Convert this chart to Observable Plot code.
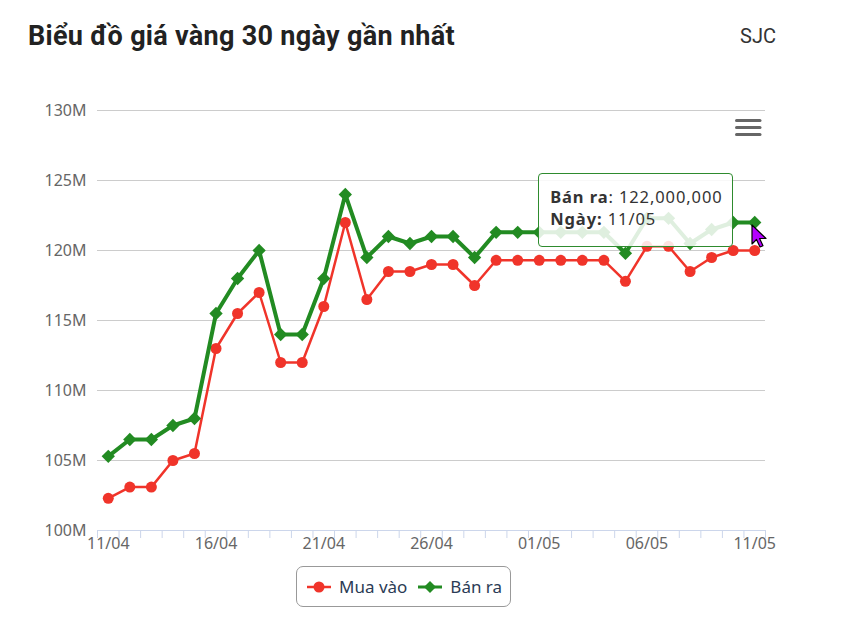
<!DOCTYPE html>
<html>
<head>
<meta charset="utf-8">
<script src="https://cdn.jsdelivr.net/npm/d3@7"></script>
<script src="https://cdn.jsdelivr.net/npm/@observablehq/plot@0.6"></script>
<style>
  html, body { margin: 0; padding: 0; background: #fff; }
  #wrap { position: relative; width: 842px; height: 637px; overflow: hidden; font-family: "Noto Sans", sans-serif; }
  #title { position: absolute; left: 28px; top: 20px; font-family: Roboto, sans-serif; font-weight: 700; font-size: 27px; color: #222; white-space: nowrap; letter-spacing: 0.3px; }
  #brand { position: absolute; left: 740px; top: 24px; font-family: Roboto, sans-serif; font-size: 20px; color: #333; }
  #chart { position: absolute; left: 0; top: 0; }
  #tip { position: absolute; box-sizing: border-box; width: 195px; height: 74px; border: 1px solid #2e8b2e; border-radius: 4px; background: rgba(255,255,255,0.86); padding: 12px 0 0 11px; font-size: 16.5px; line-height: 22px; color: #333; letter-spacing: 0.9px; white-space: nowrap; }
  #legend { position: absolute; left: 296px; top: 566px; width: 215px; height: 41px; box-sizing: border-box; border: 1.5px solid #999; border-radius: 7px; display: flex; align-items: center; padding-left: 9px; font-size: 17px; color: #2b3b55; white-space: nowrap; }
  #legend .item { display: flex; align-items: center; margin-right: 10px; flex: none; }
  #legend svg { margin-right: 7px; flex: none; }
  #menu { position: absolute; left: 735px; top: 118px; }
  #cursor { position: absolute; }
</style>
</head>
<body>
<div id="wrap">
  <div id="chart"></div>
  <div id="title">Biểu đồ giá vàng 30 ngày gần nhất</div>
  <div id="brand">SJC</div>
  <svg id="menu" width="28" height="20"><g stroke="#666" stroke-width="3" stroke-linecap="round"><line x1="1.5" x2="25" y1="2.5" y2="2.5"/><line x1="1.5" x2="25" y1="9.5" y2="9.5"/><line x1="1.5" x2="25" y1="16.5" y2="16.5"/></g></svg>
  <div id="legend"></div>
</div>
<script>
// ---- Data (values in millions VND) ----
const dates = ["11/04","12/04","13/04","14/04","15/04","16/04","17/04","18/04","19/04","20/04",
  "21/04","22/04","23/04","24/04","25/04","26/04","27/04","28/04","29/04","30/04",
  "01/05","02/05","03/05","04/05","05/05","06/05","07/05","08/05","09/05","10/05","11/05"];
const buy = [102.3,103.1,103.1,105.0,105.5,113.0,115.5,117.0,112.0,112.0,
  116.0,122.0,116.5,118.5,118.5,119.0,119.0,117.5,119.3,119.3,
  119.3,119.3,119.3,119.3,117.8,120.3,120.3,118.5,119.5,120.0,120.0];
const sell = [105.3,106.5,106.5,107.5,108.0,115.5,118.0,120.0,114.0,114.0,
  118.0,124.0,119.5,121.0,120.5,121.0,121.0,119.5,121.3,121.3,
  121.3,121.3,121.3,121.3,119.8,122.3,122.3,120.5,121.5,122.0,122.0];
const yTicks = [100,105,110,115,120,125,130];
const labelIdx = [0,5,10,15,20,25,30];
const seriesNames = ["Mua vào","Bán ra"];
const UNIT = 1e6;

const RED = "#f0342a", GREEN = "#228b22", AXIS = "#ccd6eb";
const data = dates.map((d, i) => ({i, date: d, buy: buy[i] * UNIT, sell: sell[i] * UNIT}));
const boundaries = d3.range(dates.length + 1).map(k => k - 0.5);

const chart = Plot.plot({
  width: 842, height: 560,
  marginTop: 110, marginLeft: 97, marginRight: 77, marginBottom: 30,
  style: {fontFamily: "Noto Sans", fontSize: "16px", color: "#666", background: "transparent", overflow: "visible"},
  x: {type: "linear", domain: [-0.5, dates.length - 0.5], label: null},
  y: {domain: [100 * UNIT, 130 * UNIT], label: null},
  marks: [
    Plot.gridY(yTicks.filter(t => t > 100).map(t => t * UNIT), {stroke: "#cccccc", strokeOpacity: 1}),
    Plot.ruleY([100 * UNIT], {stroke: AXIS, strokeWidth: 1}),
    Plot.axisY(yTicks.map(t => t * UNIT), {tickSize: 0, tickPadding: 11, tickFormat: d => d / UNIT + "M", label: null, fill: "#666"}),
    Plot.axisX(boundaries, {tickSize: 8, tickFormat: () => "", stroke: AXIS, label: null}),
    Plot.axisX(labelIdx, {tickSize: 0, tickPadding: 7, tickFormat: i => dates[i], label: null, fill: "#666", style: "letter-spacing:0.5px"}),
    Plot.line(data, {x: "i", y: "buy", stroke: RED, strokeWidth: 2.5}),
    Plot.dot(data, {x: "i", y: "buy", fill: RED, r: 5.5}),
    Plot.line(data, {x: "i", y: "sell", stroke: GREEN, strokeWidth: 4}),
    Plot.dot(data, {x: "i", y: "sell", fill: GREEN, symbol: "diamond2", r: 6})
  ]
});
document.getElementById("chart").appendChild(chart);

// Tooltip for last "Bán ra" point
const last = data.length - 1;
const sx = chart.scale("x").apply(last);
const sy = chart.scale("y").apply(data[last].sell);
const tip = document.createElement("div");
tip.id = "tip";
tip.style.left = (sx - 216) + "px";
tip.style.top = (sy - 49) + "px";
tip.innerHTML = `<b>${seriesNames[1]}</b>: ${data[last].sell.toLocaleString("en-US")}<br><b>Ngày:</b> ${dates[last]}`;
document.getElementById("wrap").appendChild(tip);

// Mouse cursor at the hovered point
const cur = document.createElementNS("http://www.w3.org/2000/svg", "svg");
cur.setAttribute("id", "cursor");
cur.setAttribute("width", "20"); cur.setAttribute("height", "28");
cur.style.left = (sx - 3) + "px";
cur.style.top = (sy + 2) + "px";
cur.innerHTML = `<path d="M1,1 L1,20 L5.5,15.5 L9,23 L12,21.7 L8.6,14.5 L15,14.5 Z" fill="#b400ff" stroke="#000" stroke-width="1.2" stroke-linejoin="round"/>`;
document.getElementById("wrap").appendChild(cur);

// Legend
const legend = document.getElementById("legend");
const sym = (color, kind) => kind === "circle"
  ? `<svg width="26" height="14"><line x1="1" x2="25" y1="7" y2="7" stroke="${color}" stroke-width="2.5"/><circle cx="13" cy="7" r="5.5" fill="${color}"/></svg>`
  : `<svg width="26" height="14"><line x1="1" x2="25" y1="7" y2="7" stroke="${color}" stroke-width="3"/><path d="M13,1 L19,7 L13,13 L7,7 Z" fill="${color}"/></svg>`;
legend.innerHTML = `<div class="item">${sym(RED, "circle")}<span>${seriesNames[0]}</span></div>` +
                   `<div class="item">${sym(GREEN, "diamond")}<span>${seriesNames[1]}</span></div>`;
</script>
</body>
</html>
